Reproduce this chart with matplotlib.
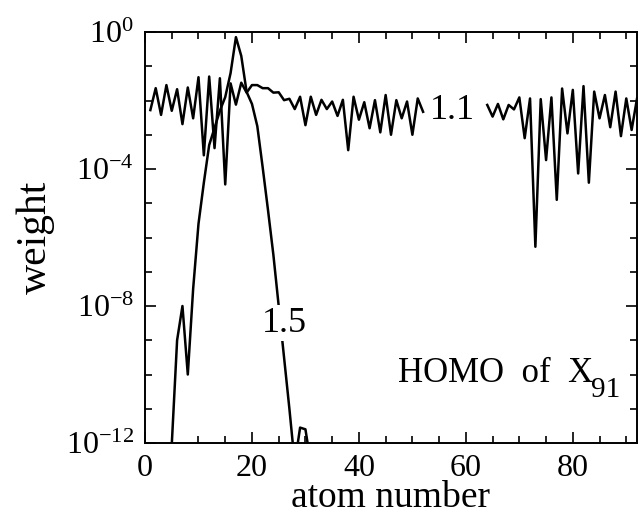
import matplotlib
matplotlib.use("Agg")
import matplotlib.pyplot as plt
from matplotlib.ticker import FixedLocator, MultipleLocator, NullFormatter
import numpy as np

plt.rcParams['font.family'] = ['Liberation Serif', 'DejaVu Serif']
plt.rcParams['mathtext.fontset'] = 'custom'
plt.rcParams['mathtext.rm'] = 'Liberation Serif'
plt.rcParams['mathtext.it'] = 'Liberation Serif:italic'

# log10 of the weight per atom, state "1.1" (atoms 1..92, gap at the label)
atoms_11 = np.arange(1, 93)
logw_11 = [
    -2.28, -1.64, -2.42, -1.55, -2.30, -1.67, -2.69, -1.62, -2.52, -1.32,
    -3.60, -1.30, -3.39, -1.35, -4.45, -1.50, -2.12, -1.48, -1.77, -1.55,
    -1.55, -1.64, -1.64, -1.77, -1.76, -1.99, -1.95, -2.25, -1.89, -2.72,
    -1.89, -2.42, -1.98, -2.25, -2.03, -2.45, -1.98, -3.45, -1.89, -2.56,
    -2.05, -2.81, -1.99, -2.93, -1.84, -3.00, -1.99, -2.52, -2.03, -3.00,
    -1.94, -2.33, np.nan, np.nan, np.nan, np.nan, np.nan, np.nan, np.nan, np.nan,
    np.nan, np.nan, np.nan, -2.13, -2.47, -2.10, -2.55, -2.13, -2.26, -1.91,
    -3.10, -1.94, -6.27, -1.96, -3.74, -1.91, -4.90, -1.65, -2.96, -1.69,
    -4.13, -1.58, -4.40, -1.74, -2.52, -1.84, -2.78, -1.74, -3.04, -1.94,
    -2.86, -1.95,
]

# log10 of the weight per atom, state "1.5" (localised)
atoms_15 = np.arange(4, 33)
logw_15 = [
    -14.0, -12.05, -9.0, -8.0, -10.0, -7.5, -5.6, -4.4, -3.3, -2.8,
    -2.3, -1.9, -1.2, -0.15, -0.7, -1.75, -2.1, -2.75, -3.95, -5.2,
    -6.5, -8.0, -9.5, -11.0, -12.6, -11.55, -11.6, -12.6, -14.0,
]

y_ticks = [1e0, 1e-4, 1e-8, 1e-12]
y_ticklabels = [r'$10^{0}$', r'$10^{-4}$', r'$10^{-8}$', r'$10^{-12}$']

fig = plt.figure(figsize=(6.38, 5.17), dpi=100)
ax = fig.add_axes([0.2273, 0.1431, 0.7711, 0.795])

ax.plot(atoms_11, 10.0 ** np.array(logw_11), color='black', lw=1.8)
ax.plot(atoms_15, 10.0 ** np.array(logw_15), color='black', lw=1.8)

ax.set_yscale('log')
ax.set_xlim(0, 92)
ax.set_ylim(1e-12, 1e0)

ax.yaxis.set_major_locator(FixedLocator(y_ticks))
ax.set_yticklabels(y_ticklabels)
ax.yaxis.set_minor_locator(FixedLocator([10.0 ** -k for k in range(13)]))
ax.yaxis.set_minor_formatter(NullFormatter())
ax.xaxis.set_major_locator(MultipleLocator(20))
ax.xaxis.set_minor_locator(MultipleLocator(5))

ax.tick_params(which='both', direction='in', top=True, right=True, width=1.2,
               labelsize=23, colors='black')
ax.tick_params(which='major', length=8, pad=8)
ax.tick_params(which='minor', length=5)
for s in ax.spines.values():
    s.set_linewidth(1.4)

ax.set_xlabel('atom number', fontsize=27, labelpad=-2)
ax.set_ylabel('weight', fontsize=30, labelpad=8)

ax.text(57.5, 10.0 ** -2.3, '1.1', fontsize=26, ha='center', va='center')
ax.text(26.0, 10.0 ** -8.5, '1.5', fontsize=26, ha='center', va='center',
        bbox=dict(facecolor='white', edgecolor='none', pad=1), zorder=5)
ax.text(47.3, 10.0 ** -10.21, 'HOMO  of  X', fontsize=25, ha='left',
        va='baseline')
ax.text(83.4, 10.0 ** -10.66, '91', fontsize=21, ha='left', va='baseline')

fig.savefig('out.png', dpi=100)
